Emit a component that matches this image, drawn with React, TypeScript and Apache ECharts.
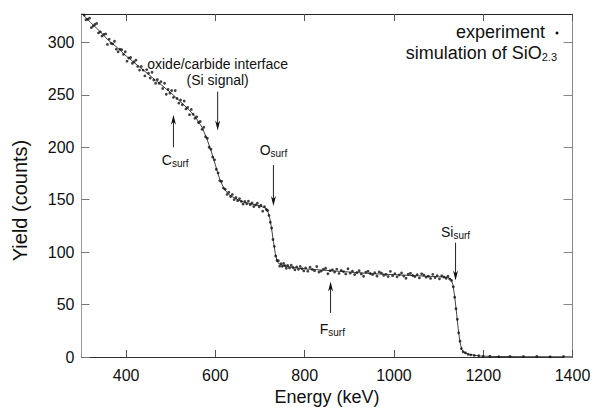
import { useEffect, useRef } from 'react';
import * as echarts from 'echarts';

const xTicks = [400, 600, 800, 1000, 1200, 1400];
const yTicks = [0, 50, 100, 150, 200, 250, 300];

// simulation of SiO2.3 (energy keV, counts)
const simulation: [number, number][] = [
  [300, 328], [320, 319], [340, 311], [360, 302], [380, 295], [400, 287], [420, 280],
  [440, 273], [460, 266], [480, 259], [500, 252], [520, 244], [540, 236], [555, 229],
  [570, 219], [580, 209], [590, 197], [600, 183], [610, 169], [620, 160], [630, 155],
  [645, 151], [660, 148], [680, 146], [700, 144], [712, 142], [718, 138], [722, 132],
  [726, 122], [730, 110], [734, 99], [738, 92], [742, 89], [750, 87.5], [770, 85.5],
  [800, 84], [850, 82.5], [900, 81], [950, 79.5], [1000, 78.5], [1050, 77.5],
  [1100, 76.5], [1120, 76], [1128, 74], [1132, 69], [1136, 58], [1140, 43], [1144, 27],
  [1148, 14], [1152, 7], [1158, 4], [1170, 2.5], [1190, 1], [1220, 0.5], [1300, 0.3],
  [1400, 0.2],
];

// experiment (energy keV, counts)
const experiment: [number, number][] = [
  [302, 328], [306, 326], [310, 321.5], [314, 322], [318, 323], [322, 314], [326, 315.5],
  [330, 317], [334, 318], [338, 309], [342, 310], [346, 306], [350, 307.5], [354, 308],
  [358, 298], [362, 303], [366, 299], [370, 298.5], [374, 301], [378, 293.5], [382, 291],
  [386, 293.5], [390, 293], [394, 288.5], [398, 291], [402, 282], [406, 285], [410, 285.5],
  [414, 280], [418, 281.5], [422, 283], [426, 277], [430, 273.5], [434, 277], [438, 273.5],
  [442, 268], [446, 274], [450, 270.5], [454, 266], [458, 271.5], [462, 264], [466, 261],
  [470, 264.5], [474, 261], [478, 262.5], [482, 256], [486, 261], [490, 250.5], [494, 255],
  [498, 251.5], [502, 254], [506, 247.5], [510, 254], [514, 246.5], [518, 242], [522, 245],
  [526, 240.5], [530, 244], [534, 236.5], [538, 238], [542, 231], [546, 236], [550, 231.5],
  [554, 227.5], [558, 229], [562, 223.5], [566, 224.5], [570, 217], [574, 219], [578, 210],
  [582, 208.5], [586, 200], [590, 198], [594, 190.5], [598, 188], [602, 179], [606, 175.5],
  [610, 168], [614, 167.5], [618, 161], [622, 160], [626, 155], [630, 157], [634, 153],
  [638, 155], [642, 150], [646, 152], [650, 149], [654, 151], [658, 148.5], [662, 145.8],
  [666, 148.4], [670, 146], [674, 148.6], [678, 145.2], [682, 146.8], [686, 143.4],
  [690, 145], [694, 146.6], [698, 143.2], [702, 144.7], [706, 139], [710, 143.3],
  [714, 140.7], [717, 139.7], [720, 135], [723, 128.5], [726, 123], [729, 112],
  [732, 105.5], [735, 96.3], [738, 92], [741, 91.8], [744, 86.6], [747, 89], [750, 86.5],
  [753, 89.2], [756, 87], [759, 84.6], [762, 87.3], [766, 84.9], [770, 87.5], [774, 85.3],
  [778, 83.1], [782, 85.9], [786, 83.6], [790, 86.4], [794, 84.2], [798, 82.1],
  [802, 84.9], [807, 81.8], [812, 85.6], [817, 83.5], [822, 82.3], [827, 86.2], [832, 81],
  [837, 81.9], [842, 83.7], [847, 84.6], [852, 79.4], [857, 82.3], [862, 83.1], [867, 81],
  [872, 83.8], [877, 79.7], [882, 82.5], [887, 81.4], [892, 79.2], [897, 84.1], [902, 79.9],
  [907, 81.8], [912, 78.6], [917, 80.5], [922, 82.3], [927, 79.2], [932, 77], [937, 80.9],
  [942, 81.7], [947, 79.6], [952, 78.5], [957, 80.3], [962, 77.2], [967, 81.1], [972, 80],
  [977, 77.9], [982, 78.8], [987, 76.7], [992, 81.6], [997, 77.5], [1002, 79.5],
  [1007, 76.4], [1012, 78.3], [1017, 80.2], [1022, 77.1], [1027, 75], [1032, 78.9],
  [1037, 79.8], [1042, 77.7], [1047, 76.6], [1052, 78.5], [1057, 75.4], [1062, 79.3],
  [1067, 78.2], [1072, 76.1], [1077, 77], [1082, 74.9], [1087, 78.8], [1092, 75.7],
  [1097, 77.6], [1102, 74.5], [1107, 77.4], [1112, 76.2], [1117, 75.1], [1121, 77],
  [1125, 74.3], [1129, 73], [1133, 67], [1136, 57], [1139, 46], [1142, 36], [1145, 23],
  [1148, 15], [1151, 8], [1155, 5], [1160, 4], [1166, 2.5], [1172, 2], [1180, 1.5],
  [1190, 1.2], [1200, 0.5], [1215, 0.8], [1235, 0.3], [1260, 0.6], [1290, 0.4],
  [1320, 0.5], [1350, 0.2], [1380, 0.4],
];

// annotation anchors in data units (energy keV, counts)
const arrows = [
  { energy: 605, from: 253, to: 216 },   // oxide/carbide interface, down
  { energy: 506, from: 200, to: 231 },   // C surf, up
  { energy: 730, from: 183, to: 144 },   // O surf, down
  { energy: 858, from: 42, to: 72 },     // F surf, up
  { energy: 1138, from: 109, to: 73 },   // Si surf, down
];
const labels = [
  { energy: 605, value: 279, text: 'oxide/carbide interface' },
  { energy: 605, value: 264.5, text: '(Si signal)' },
  { energy: 510, value: 188, text: 'C{s|surf}' },
  { energy: 730, value: 197, text: 'O{s|surf}' },
  { energy: 862, value: 27, text: 'F{s|surf}' },
  { energy: 1138, value: 119, text: 'Si{s|surf}' },
];

const FONT = '"Liberation Sans", Arial, Helvetica, sans-serif';

export default function App() {
  const ref = useRef<HTMLDivElement>(null);
  useEffect(() => {
    const chart = echarts.init(ref.current!, null, { renderer: 'svg' });
    const axisTextColor = '#111';
    const fmt = (v: number) => String(v);
    chart.setOption({
      animation: false,
      backgroundColor: '#fff',
      textStyle: { fontFamily: FONT },
      grid: { left: 81.5, right: 24.5, top: 14, bottom: 48 },
      xAxis: [
        {
          type: 'value', min: 300, max: 1400, position: 'bottom',
          name: 'Energy (keV)', nameLocation: 'middle', nameGap: 31,
          nameTextStyle: { fontSize: 18, color: axisTextColor, fontFamily: FONT },
          axisLine: { show: true, onZero: false, lineStyle: { color: '#333', width: 1 } },
          axisTick: { show: true, inside: true, length: 7, customValues: xTicks, lineStyle: { color: '#555' } },
          axisLabel: { customValues: xTicks, formatter: fmt, fontSize: 16, color: axisTextColor, margin: 10, fontFamily: FONT },
          splitLine: { show: false },
        },
        {
          type: 'value', min: 300, max: 1400, position: 'top',
          axisLine: { show: true, onZero: false, lineStyle: { color: '#222', width: 1 } },
          axisTick: { show: true, inside: true, length: 7, customValues: xTicks, lineStyle: { color: '#555' } },
          axisLabel: { show: false },
          splitLine: { show: false },
        },
      ],
      yAxis: [
        {
          type: 'value', min: 0, max: 327, position: 'left',
          name: 'Yield (counts)', nameLocation: 'middle', nameGap: 52,
          nameTextStyle: { fontSize: 20, color: axisTextColor, fontFamily: FONT, padding: [0, 30, 0, 0] },
          axisLine: { show: true, onZero: false, lineStyle: { color: '#999', width: 1 } },
          axisTick: { show: true, inside: true, length: 8, customValues: yTicks, lineStyle: { color: '#777' } },
          axisLabel: { customValues: yTicks, formatter: fmt, fontSize: 16, color: axisTextColor, margin: 7, fontFamily: FONT },
          splitLine: { show: false },
        },
        {
          type: 'value', min: 0, max: 327, position: 'right',
          axisLine: { show: true, onZero: false, lineStyle: { color: '#888', width: 1 } },
          axisTick: { show: true, inside: true, length: 9, customValues: yTicks, lineStyle: { color: '#888' } },
          axisLabel: { show: false },
          splitLine: { show: false },
        },
      ],
      series: [
        {
          name: 'simulation of SiO2.3', type: 'line', data: simulation,
          xAxisIndex: 0, yAxisIndex: 0,
          showSymbol: false, lineStyle: { color: '#444', width: 1 }, z: 2,
        },
        {
          name: 'experiment', type: 'scatter', data: experiment,
          xAxisIndex: 0, yAxisIndex: 0,
          symbolSize: 2.8, itemStyle: { color: '#111' }, z: 3,
        },
      ],
    });

    const px = (e: number, v: number) => chart.convertToPixel({ seriesIndex: 0 }, [e, v]) as number[];
    const rich = { s: { fontSize: 10, padding: [7, 0, 0, 0], fontFamily: FONT, fill: '#111' } };
    const graphics: any[] = [];
    arrows.forEach((a) => {
      const p1 = px(a.energy, a.from);
      const p2 = px(a.energy, a.to);
      const dir = p2[1] > p1[1] ? 1 : -1;
      const head = 10;
      graphics.push({
        type: 'line', silent: true,
        shape: { x1: p1[0], y1: p1[1], x2: p2[0], y2: p2[1] - dir * head * 0.6 },
        style: { stroke: '#222', lineWidth: 1 },
      });
      graphics.push({
        type: 'polygon', silent: true,
        shape: { points: [[p2[0] - 2.5, p2[1] - dir * head], [p2[0], p2[1] - dir * head * 0.7], [p2[0] + 2.5, p2[1] - dir * head], [p2[0], p2[1]]] },
        style: { fill: '#111' },
      });
    });
    labels.forEach((l) => {
      const p = px(l.energy, l.value);
      graphics.push({
        type: 'text', silent: true, x: p[0], y: p[1],
        style: { text: l.text, rich, fontSize: 14, fontFamily: FONT, fill: '#111', align: 'center', verticalAlign: 'middle' },
      });
    });
    // legend
    graphics.push({
      type: 'text', silent: true, x: 545, y: 32,
      style: { text: 'experiment', fontSize: 18, fontFamily: FONT, fill: '#111', align: 'right', verticalAlign: 'middle' },
    });
    graphics.push({ type: 'circle', silent: true, shape: { cx: 557, cy: 33, r: 1.5 }, style: { fill: '#111' } });
    graphics.push({
      type: 'text', silent: true, x: 557, y: 53,
      style: {
        text: 'simulation of SiO{s|2.3}', fontSize: 18, fontFamily: FONT, fill: '#111', align: 'right', verticalAlign: 'middle',
        rich: { s: { fontSize: 11, padding: [8, 0, 0, 0], fontFamily: FONT, fill: '#111' } },
      },
    });
    chart.setOption({ graphic: graphics });
    return () => chart.dispose();
  }, []);
  return <div ref={ref} style={{ position: 'fixed', left: 0, top: 0, width: 597, height: 411, background: '#fff' }} />;
}
